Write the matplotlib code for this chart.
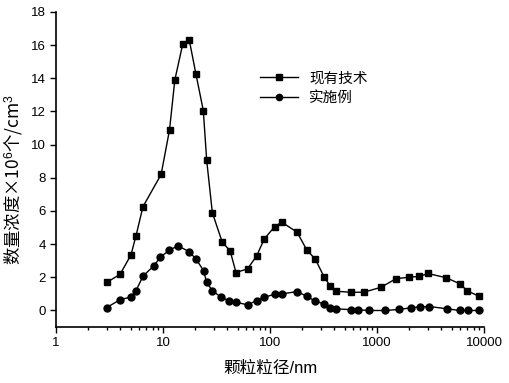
import numpy as np
import matplotlib
matplotlib.use('Agg')
import matplotlib.pyplot as plt

plt.rcParams['font.family'] = ['Liberation Sans', 'Noto Sans CJK SC', 'DejaVu Sans']
plt.rcParams['mathtext.fontset'] = 'custom'
plt.rcParams['mathtext.rm'] = 'Liberation Sans'
plt.rcParams['mathtext.it'] = 'Liberation Sans'

# 现有技术 (squares)
x_prior = [2.98, 3.96, 5.02, 5.6, 6.5, 9.6, 11.5, 12.9, 15.3, 17.6, 20.3, 23.8, 25.6, 28.9,
           35.8, 42.3, 48.1, 61.7, 75.1, 88.5, 110.7, 129, 179, 220, 265, 320, 364, 414,
           568, 751, 1090, 1495, 1991, 2470, 2997, 4447, 5930, 6935, 8920]
y_prior = [1.7, 2.17, 3.35, 4.52, 6.26, 8.2, 10.88, 13.9, 16.07, 16.3, 14.26, 12.05, 9.05, 5.9,
           4.11, 3.61, 2.29, 2.51, 3.3, 4.32, 5.06, 5.32, 4.72, 3.66, 3.09, 2.03, 1.49, 1.16,
           1.1, 1.1, 1.4, 1.91, 2.01, 2.05, 2.23, 1.97, 1.61, 1.2, 0.86]

# 实施例 (circles)
x_ex = [2.98, 3.99, 4.98, 5.6, 6.5, 8.2, 9.45, 11.4, 13.8, 17.6, 20.4, 23.9, 25.6, 28.9,
        34.8, 41.6, 47.9, 61.7, 75, 88.5, 110.7, 129, 179, 220, 265, 320, 364, 414,
        568, 668, 842, 1188, 1596, 2065, 2541, 3083, 4540, 5930, 7050, 8920]
y_ex = [0.18, 0.66, 0.8, 1.2, 2.07, 2.69, 3.21, 3.63, 3.9, 3.54, 3.09, 2.41, 1.69, 1.2,
        0.8, 0.58, 0.5, 0.34, 0.6, 0.8, 0.98, 1.0, 1.14, 0.86, 0.56, 0.4, 0.16, 0.1,
        0.05, 0.04, 0.0, 0.0, 0.06, 0.16, 0.22, 0.24, 0.1, 0.0, 0.0, 0.0]

fig = plt.figure(figsize=(5.09, 3.83), dpi=100)
ax = fig.add_axes([0.110, 0.146, 0.841, 0.823])

ax.plot(x_prior, y_prior, color='black', lw=1, marker='s', ms=4.5, label='现有技术')
ax.plot(x_ex, y_ex, color='black', lw=1, marker='o', ms=5, label='实施例')

ax.set_xscale('log')
ax.set_xlim(1, 10000)
ax.set_ylim(-1, 18)
ax.set_yticks(range(0, 19, 2))
ax.set_xticks([1, 10, 100, 1000, 10000])
ax.set_xticklabels(['1', '10', '100', '1000', '10000'])

for s in ['top', 'right']:
    ax.spines[s].set_visible(False)
for s in ['left', 'bottom']:
    ax.spines[s].set_linewidth(1.2)
ax.tick_params(axis='both', which='major', direction='out', length=4, width=1, labelsize=9.5)
ax.tick_params(axis='x', which='minor', direction='out', length=2.5, width=1)
ax.tick_params(axis='y', which='minor', left=False)

ax.set_xlabel('颗粒粒径/nm', fontsize=12, labelpad=8)
ax.set_ylabel('数量浓度×10$^{6}$个/cm$^{3}$', fontsize=12.5,
              fontfamily='Noto Sans CJK SC')
ax.yaxis.set_label_coords(-0.072, 0.467)

ax.legend(loc='upper left', bbox_to_anchor=(0.477, 0.811), frameon=False, numpoints=1,
          fontsize=10.5, handlelength=2.6, labelspacing=0.4, handletextpad=0.75,
          borderpad=0, borderaxespad=0, markerscale=0.9)

fig.savefig('out.png', dpi=100)
